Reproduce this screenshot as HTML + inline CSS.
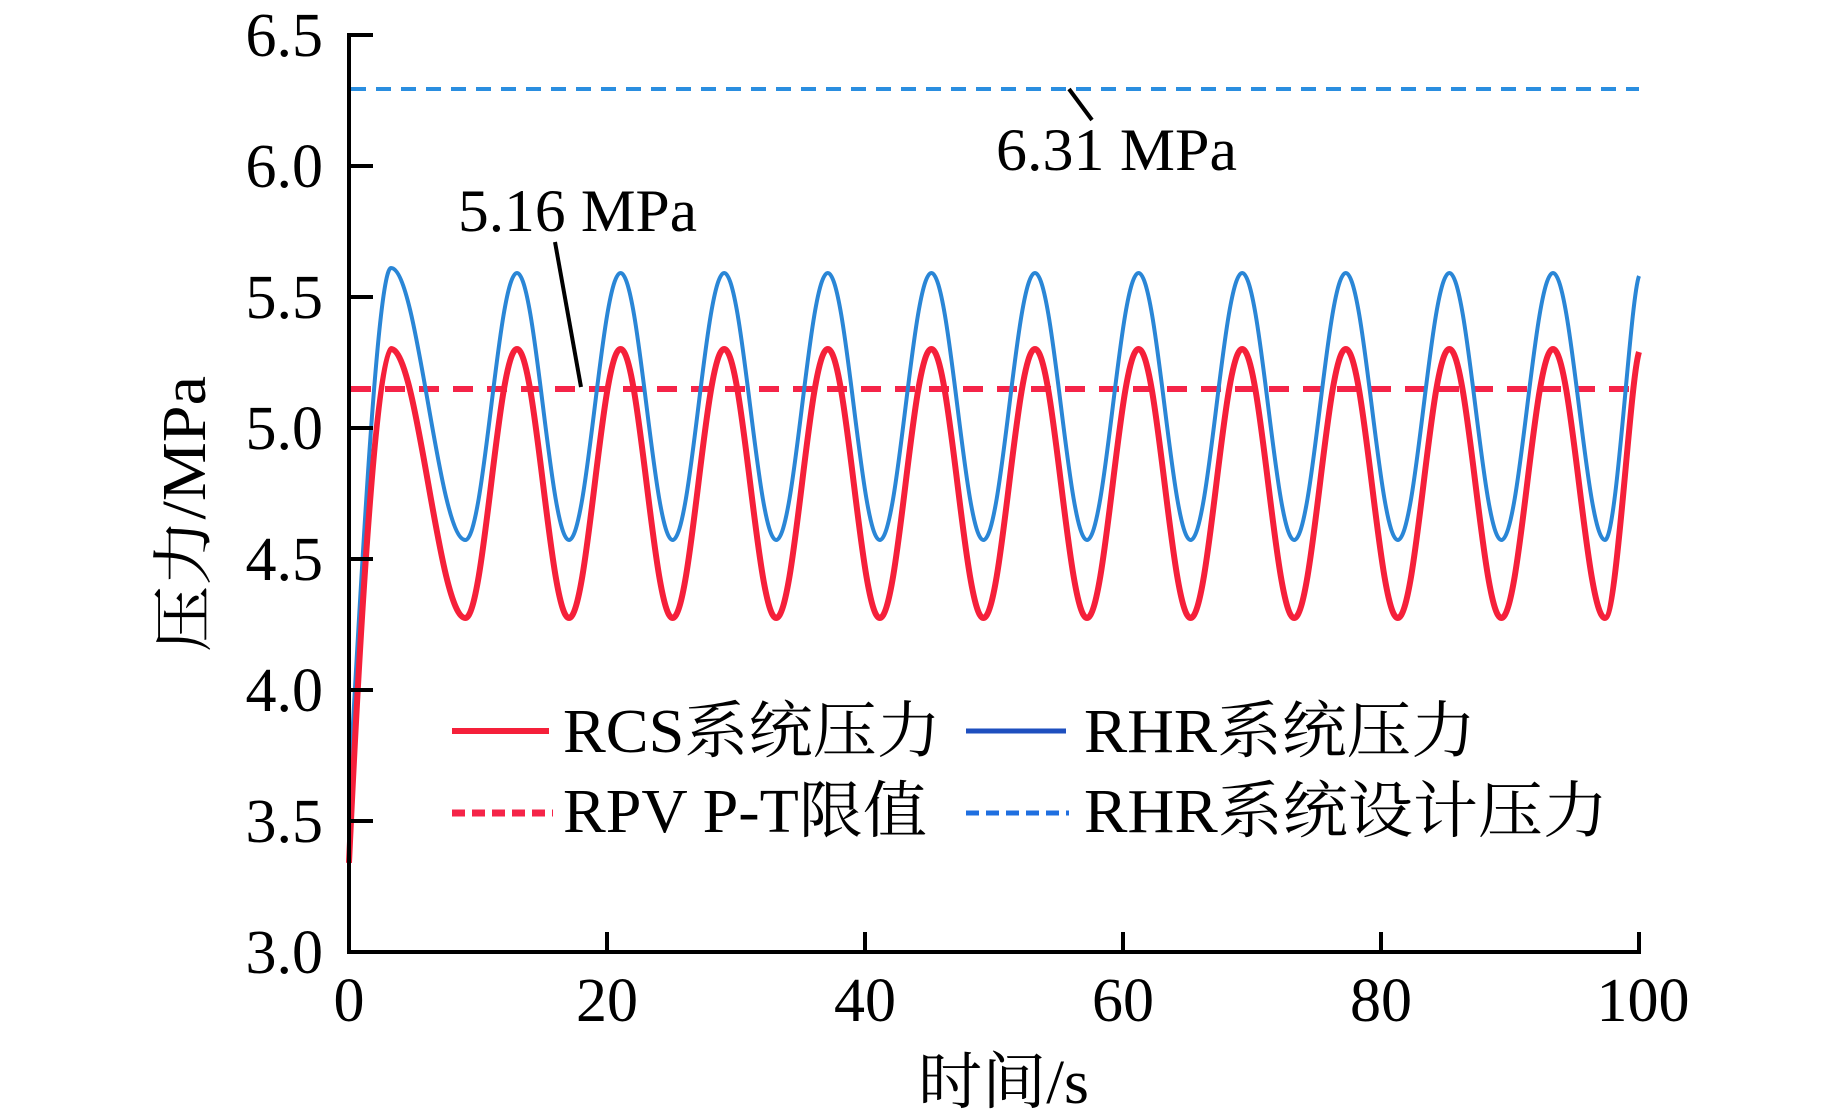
<!DOCTYPE html>
<html>
<head>
<meta charset="utf-8">
<style>
  html,body{margin:0;padding:0;background:#fff;}
  svg{display:block;}
  text{font-family:"Liberation Serif","Noto Serif CJK SC",serif;fill:#000;}
</style>
</head>
<body>
<svg width="1843" height="1120" viewBox="0 0 1843 1120" xmlns="http://www.w3.org/2000/svg">
  <rect x="0" y="0" width="1843" height="1120" fill="#fff"/>

  <!-- reference dashed lines -->
  <line x1="351" y1="89" x2="1639" y2="89" stroke="#2a8ee0" stroke-width="4" stroke-dasharray="15 10"/>
  <line x1="351" y1="389" x2="1639" y2="389" stroke="#f52448" stroke-width="6" stroke-dasharray="20 14"/>

  <!-- RHR curve (blue) -->
  <path fill="none" stroke="#2a86d6" stroke-width="4" stroke-linejoin="round" d="M349,795 C362,560 378,268 391,268
  C418.1,268 438.3,540 465.4,540
  C484.3,540 498.1,273 517,273
  C535.9,273 550.1,540 569,540
  C587.9,540 601.7,273 620.6,273
  C639.5,273 653.7,540 672.6,540
  C691.5,540 705.3,273 724.2,273
  C743.1,273 757.3,540 776.2,540
  C795.1,540 808.9,273 827.8,273
  C846.7,273 860.9,540 879.8,540
  C898.7,540 912.5,273 931.4,273
  C950.3,273 964.5,540 983.4,540
  C1002.3,540 1016.1,273 1035,273
  C1053.9,273 1068.1,540 1087,540
  C1105.9,540 1119.7,273 1138.6,273
  C1157.5,273 1171.7,540 1190.6,540
  C1209.5,540 1223.3,273 1242.2,273
  C1261.1,273 1275.3,540 1294.2,540
  C1313.1,540 1326.9,273 1345.8,273
  C1364.7,273 1378.9,540 1397.8,540
  C1416.7,540 1430.5,273 1449.4,273
  C1468.3,273 1482.5,540 1501.4,540
  C1520.3,540 1534.1,273 1553,273
  C1571.9,273 1586.1,540 1605,540
  C1617,540 1630,300 1639,276"/>

  <!-- RCS curve (red) -->
  <path fill="none" stroke="#f5203a" stroke-width="6" stroke-linejoin="round" d="M349,862.9 C363,560 379,349 391,349
  C418.1,349 438.3,618 465.4,618
  C484.3,618 498.1,349 517,349
  C535.9,349 550.1,618 569,618
  C587.9,618 601.7,349 620.6,349
  C639.5,349 653.7,618 672.6,618
  C691.5,618 705.3,349 724.2,349
  C743.1,349 757.3,618 776.2,618
  C795.1,618 808.9,349 827.8,349
  C846.7,349 860.9,618 879.8,618
  C898.7,618 912.5,349 931.4,349
  C950.3,349 964.5,618 983.4,618
  C1002.3,618 1016.1,349 1035,349
  C1053.9,349 1068.1,618 1087,618
  C1105.9,618 1119.7,349 1138.6,349
  C1157.5,349 1171.7,618 1190.6,618
  C1209.5,618 1223.3,349 1242.2,349
  C1261.1,349 1275.3,618 1294.2,618
  C1313.1,618 1326.9,349 1345.8,349
  C1364.7,349 1378.9,618 1397.8,618
  C1416.7,618 1430.5,349 1449.4,349
  C1468.3,349 1482.5,618 1501.4,618
  C1520.3,618 1534.1,349 1553,349
  C1571.9,349 1586.1,618 1605,618
  C1617,618 1630,380 1639,352"/>

  <!-- axes -->
  <g stroke="#000" stroke-width="4" fill="none">
    <line x1="349" y1="33" x2="349" y2="954"/>
    <line x1="347" y1="952" x2="1641" y2="952"/>
    <!-- y ticks -->
    <line x1="349" y1="35" x2="373" y2="35"/>
    <line x1="349" y1="166" x2="373" y2="166"/>
    <line x1="349" y1="297" x2="373" y2="297"/>
    <line x1="349" y1="428" x2="373" y2="428"/>
    <line x1="349" y1="559" x2="373" y2="559"/>
    <line x1="349" y1="690" x2="373" y2="690"/>
    <line x1="349" y1="821" x2="373" y2="821"/>
    <!-- x ticks -->
    <line x1="607" y1="952" x2="607" y2="932"/>
    <line x1="865" y1="952" x2="865" y2="932"/>
    <line x1="1123" y1="952" x2="1123" y2="932"/>
    <line x1="1381" y1="952" x2="1381" y2="932"/>
    <line x1="1639" y1="952" x2="1639" y2="932"/>
  </g>

  <!-- y tick labels -->
  <g font-size="62" text-anchor="end">
    <text x="323" y="56">6.5</text>
    <text x="323" y="187">6.0</text>
    <text x="323" y="318">5.5</text>
    <text x="323" y="449">5.0</text>
    <text x="323" y="580">4.5</text>
    <text x="323" y="711">4.0</text>
    <text x="323" y="842">3.5</text>
    <text x="323" y="973">3.0</text>
  </g>
  <!-- x tick labels -->
  <g font-size="62" text-anchor="middle">
    <text x="349" y="1021">0</text>
    <text x="607" y="1021">20</text>
    <text x="865" y="1021">40</text>
    <text x="1123" y="1021">60</text>
    <text x="1381" y="1021">80</text>
    <text x="1643" y="1021">100</text>
  </g>

  <!-- axis titles -->
  <text x="918" y="1103" font-size="62" textLength="171" lengthAdjust="spacingAndGlyphs">时间/s</text>
  <text transform="translate(205,652) rotate(-90)" x="0" y="0" font-size="62" textLength="276" lengthAdjust="spacingAndGlyphs">压力/MPa</text>

  <!-- annotations -->
  <line x1="555" y1="242" x2="581" y2="387" stroke="#000" stroke-width="4"/>
  <text x="458" y="231" font-size="60" textLength="239" lengthAdjust="spacingAndGlyphs">5.16 MPa</text>
  <line x1="1069" y1="89" x2="1092" y2="120" stroke="#000" stroke-width="4"/>
  <text x="996" y="170" font-size="60" textLength="241" lengthAdjust="spacingAndGlyphs">6.31 MPa</text>

  <!-- legend -->
  <line x1="452" y1="731" x2="549" y2="731" stroke="#f5203a" stroke-width="6"/>
  <text x="563" y="752" font-size="62" textLength="378" lengthAdjust="spacingAndGlyphs">RCS系统压力</text>
  <line x1="966" y1="731" x2="1066" y2="731" stroke="#1e4fbf" stroke-width="5"/>
  <text x="1084" y="752" font-size="62" textLength="392" lengthAdjust="spacingAndGlyphs">RHR系统压力</text>

  <line x1="452" y1="813" x2="553" y2="813" stroke="#f52448" stroke-width="7" stroke-dasharray="13 7"/>
  <text x="563" y="832" font-size="62" textLength="364" lengthAdjust="spacingAndGlyphs">RPV P-T限值</text>
  <line x1="966" y1="813" x2="1069" y2="813" stroke="#1f6fe0" stroke-width="5" stroke-dasharray="13 7"/>
  <text x="1084" y="832" font-size="62" textLength="524" lengthAdjust="spacingAndGlyphs">RHR系统设计压力</text>
</svg>
</body>
</html>
